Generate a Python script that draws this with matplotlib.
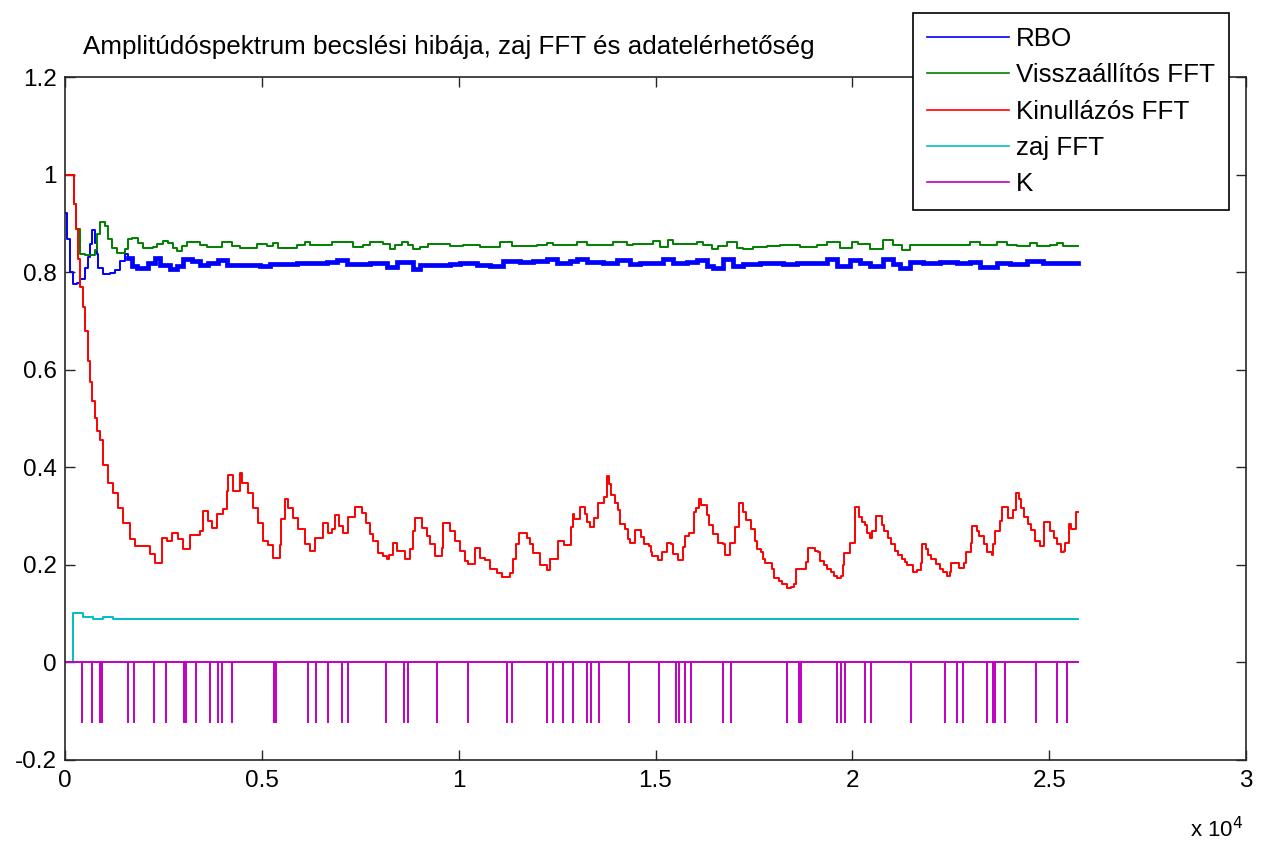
import numpy as np
import matplotlib
matplotlib.use('Agg')
import matplotlib.pyplot as plt
from matplotlib.lines import Line2D
from matplotlib.ticker import FixedLocator, FixedFormatter

plt.rcParams['font.family'] = ['Liberation Sans', 'DejaVu Sans']

title = 'Amplitúdóspektrum becslési hibája, zaj FFT és adatelérhetőség'
series_labels = ['RBO', 'Visszaállítós FFT', 'Kinullázós FFT', 'zaj FFT', 'K']
series_colors = ['#0000FF', '#008000', '#FF0000', '#00BFBF', '#BF00BF']

x_end = 25730

# RBO (step changes: sample index, value)
rbo_x = [0, 50, 130, 200, 300, 380, 510, 580, 640, 690, 760, 810, 840, 960, 1140, 1270,
         1400, 1520, 1600, 1700, 1830, 2110, 2290, 2410, 2670, 2850, 3000, 3230, 3430,
         3630, 3890, 4120, 4950, 5210, 5890, 6660, 6910, 7160, 7750, 8180, 8430, 8840,
         9020, 9780, 10030, 10470, 10800, 11130, 11560, 11890, 12240, 12500, 12830,
         13010, 13260, 13670, 14020, 14350, 14610, 15190, 15440, 15800, 16050, 16310,
         16460, 16710, 16970, 17220, 17650, 18240, 18590, 18920, 19360, 19610, 19940,
         20190, 20450, 20780, 21030, 21210, 21460, 21790, 22230, 22660, 22990, 23240,
         23670, 24000, 24440, 24840, 25270]
rbo_y = [0.922, 0.868, 0.800, 0.775, 0.778, 0.785, 0.808, 0.831, 0.858, 0.887, 0.860,
         0.838, 0.808, 0.797, 0.799, 0.805, 0.823, 0.838, 0.828, 0.813, 0.808, 0.819,
         0.829, 0.815, 0.807, 0.813, 0.826, 0.822, 0.815, 0.818, 0.825, 0.815, 0.813,
         0.816, 0.819, 0.821, 0.825, 0.817, 0.818, 0.811, 0.821, 0.807, 0.815, 0.817,
         0.819, 0.815, 0.813, 0.822, 0.820, 0.823, 0.826, 0.818, 0.822, 0.826, 0.820,
         0.819, 0.825, 0.817, 0.818, 0.826, 0.818, 0.820, 0.825, 0.813, 0.809, 0.826,
         0.813, 0.816, 0.818, 0.816, 0.818, 0.818, 0.826, 0.813, 0.824, 0.818, 0.813,
         0.826, 0.816, 0.809, 0.820, 0.818, 0.820, 0.818, 0.820, 0.811, 0.818, 0.817,
         0.822, 0.818, 0.819]

# Visszaállítós FFT
vis_x = [0, 230, 280, 380, 510, 760, 810, 890, 1020, 1090, 1190, 1320, 1520, 1600, 1700,
         1850, 1980, 2240, 2340, 2490, 2620, 2740, 2850, 2970, 3100, 3430, 3610, 3990,
         4240, 4450, 4880, 5130, 5280, 5410, 5890, 6100, 6220, 6780, 7060, 7320, 7570,
         7750, 8080, 8260, 8380, 8560, 8710, 8840, 9020, 9220, 9780, 10110, 10540, 11050,
         11350, 11990, 12240, 12400, 13010, 13260, 13770, 13920, 14280, 14430, 14940,
         15110, 15320, 15440, 16050, 16210, 16430, 16590, 16820, 17070, 17220, 17480,
         17830, 18160, 18670, 19100, 19360, 19690, 19990, 20140, 20450, 20780, 21030,
         21260, 21460, 21970, 22300, 22660, 22990, 23240, 23670, 23930, 24180, 24510,
         24690, 25020, 25200, 25350]
vis_y = [1.000, 0.940, 0.889, 0.838, 0.836, 0.845, 0.879, 0.903, 0.895, 0.868, 0.850,
         0.840, 0.848, 0.868, 0.870, 0.860, 0.850, 0.852, 0.858, 0.864, 0.860, 0.850,
         0.844, 0.854, 0.862, 0.856, 0.852, 0.862, 0.854, 0.850, 0.858, 0.853, 0.860,
         0.850, 0.856, 0.862, 0.855, 0.862, 0.862, 0.852, 0.855, 0.862, 0.858, 0.848,
         0.855, 0.862, 0.856, 0.848, 0.852, 0.858, 0.853, 0.856, 0.852, 0.862, 0.853,
         0.855, 0.860, 0.855, 0.862, 0.855, 0.856, 0.862, 0.855, 0.857, 0.864, 0.852,
         0.866, 0.858, 0.862, 0.855, 0.848, 0.854, 0.862, 0.850, 0.848, 0.852, 0.853,
         0.855, 0.852, 0.855, 0.862, 0.850, 0.862, 0.858, 0.848, 0.866, 0.855, 0.846,
         0.856, 0.856, 0.855, 0.856, 0.862, 0.855, 0.862, 0.856, 0.853, 0.860, 0.853,
         0.856, 0.860, 0.853]

# Kinullázós FFT
kin_x = [0, 230, 280, 330, 380, 460, 510, 580, 640, 690, 760, 810, 890, 960, 1090, 1220,
         1350, 1470, 1650, 1780, 2160, 2290, 2460, 2590, 2720, 2870, 3000, 3180, 3430,
         3510, 3630, 3730, 3860, 4010, 4120, 4140, 4270, 4450, 4500, 4650, 4780, 4900,
         5030, 5160, 5280, 5460, 5490, 5590, 5660, 5790, 5920, 6100, 6220, 6350, 6550,
         6680, 6780, 6860, 6960, 7060, 7190, 7370, 7540, 7650, 7750, 7820, 7950, 8080,
         8180, 8230, 8330, 8430, 8640, 8760, 8840, 8890, 9070, 9200, 9270, 9400, 9580,
         9600, 9780, 9910, 10030, 10160, 10240, 10410, 10540, 10670, 10800, 10970, 11100,
         11300, 11380, 11460, 11530, 11740, 11810, 11890, 12070, 12240, 12330, 12520,
         12680, 12860, 12900, 12940, 13080, 13210, 13250, 13340, 13430, 13530, 13690,
         13780, 13820, 13870, 13960, 14040, 14110, 14220, 14310, 14350, 14480, 14620,
         14700, 14830, 14880, 14920, 15060, 15170, 15300, 15390, 15450, 15580, 15710,
         15760, 15860, 15980, 16040, 16110, 16150, 16300, 16370, 16460, 16590, 16720,
         16770, 16900, 17030, 17120, 17230, 17300, 17430, 17520, 17590, 17690, 17730,
         17780, 17960, 18000, 18130, 18220, 18350, 18440, 18530, 18570, 18830, 18880,
         19050, 19140, 19190, 19270, 19360, 19450, 19540, 19620, 19710, 19760, 19800,
         19930, 20070, 20080, 20170, 20240, 20330, 20370, 20460, 20510, 20610, 20750,
         20810, 20900, 20990, 21080, 21160, 21250, 21340, 21390, 21540, 21650, 21740,
         21780, 21870, 21910, 22000, 22130, 22220, 22310, 22400, 22480, 22510, 22700,
         22840, 22880, 23010, 23040, 23160, 23210, 23340, 23410, 23540, 23580, 23630,
         23760, 23790, 23950, 24070, 24150, 24240, 24290, 24370, 24460, 24550, 24640,
         24770, 24860, 24880, 25030, 25120, 25210, 25300, 25380, 25410, 25500, 25560,
         25690]
kin_y = [1.000, 0.940, 0.889, 0.827, 0.770, 0.729, 0.680, 0.617, 0.575, 0.535, 0.500,
         0.474, 0.455, 0.404, 0.367, 0.347, 0.317, 0.286, 0.253, 0.239, 0.223, 0.203,
         0.256, 0.249, 0.266, 0.253, 0.233, 0.261, 0.270, 0.311, 0.290, 0.276, 0.304,
         0.315, 0.351, 0.384, 0.351, 0.388, 0.368, 0.347, 0.317, 0.286, 0.249, 0.240,
         0.215, 0.241, 0.294, 0.335, 0.317, 0.296, 0.274, 0.243, 0.229, 0.256, 0.286,
         0.266, 0.274, 0.302, 0.280, 0.266, 0.298, 0.319, 0.306, 0.286, 0.264, 0.249,
         0.225, 0.219, 0.212, 0.221, 0.245, 0.229, 0.212, 0.233, 0.270, 0.296, 0.276,
         0.259, 0.243, 0.219, 0.235, 0.286, 0.270, 0.249, 0.229, 0.208, 0.202, 0.235,
         0.215, 0.210, 0.192, 0.184, 0.176, 0.184, 0.212, 0.243, 0.266, 0.256, 0.243,
         0.225, 0.200, 0.190, 0.212, 0.249, 0.240, 0.277, 0.305, 0.295, 0.318, 0.305,
         0.288, 0.277, 0.297, 0.327, 0.339, 0.382, 0.365, 0.344, 0.327, 0.312, 0.284,
         0.273, 0.252, 0.245, 0.271, 0.257, 0.243, 0.238, 0.227, 0.219, 0.210, 0.226,
         0.245, 0.242, 0.222, 0.210, 0.236, 0.259, 0.266, 0.309, 0.316, 0.335, 0.323,
         0.302, 0.281, 0.263, 0.245, 0.242, 0.220, 0.245, 0.277, 0.327, 0.309, 0.291,
         0.273, 0.249, 0.233, 0.226, 0.213, 0.203, 0.191, 0.174, 0.167, 0.160, 0.152,
         0.155, 0.160, 0.191, 0.205, 0.235, 0.229, 0.226, 0.208, 0.199, 0.192, 0.186,
         0.178, 0.174, 0.178, 0.199, 0.225, 0.245, 0.279, 0.318, 0.298, 0.288, 0.282,
         0.266, 0.256, 0.270, 0.300, 0.281, 0.270, 0.256, 0.242, 0.229, 0.220, 0.213,
         0.206, 0.199, 0.186, 0.190, 0.203, 0.242, 0.233, 0.220, 0.212, 0.201, 0.191,
         0.186, 0.178, 0.186, 0.203, 0.193, 0.203, 0.227, 0.245, 0.279, 0.270, 0.259,
         0.242, 0.227, 0.220, 0.242, 0.270, 0.290, 0.318, 0.297, 0.312, 0.348, 0.334,
         0.316, 0.298, 0.284, 0.271, 0.249, 0.238, 0.256, 0.288, 0.270, 0.256, 0.242,
         0.227, 0.229, 0.245, 0.284, 0.273, 0.309]

# zaj FFT
zaj_x = [0, 210, 460, 710, 960, 1220]
zaj_y = [0.0, 0.102, 0.094, 0.090, 0.094, 0.090]

# K (availability): baseline 0, drops at missing samples
k_level = 0.0
k_drop = -0.125
k_drop_x = [440, 680, 900, 930, 1590, 1750, 2260, 2570, 3030, 3070, 3340, 3680, 3890,
            4000, 4240, 5310, 5350, 6180, 6380, 6690, 7040, 7200, 8150, 8620, 8720, 9440,
            10240, 11220, 11360, 12240, 12390, 12640, 12900, 13250, 13360, 13560, 14330,
            15090, 15530, 15590, 15750, 15890, 16710, 16920, 18350, 18650, 18690, 19600,
            19710, 19810, 20320, 20470, 21490, 22350, 22660, 22820, 23430, 23580, 23620,
            23880, 24660, 25210, 25460]

x_ticks = [0, 5000, 10000, 15000, 20000, 25000, 30000]
x_ticklabels = ['0', '0.5', '1', '1.5', '2', '2.5', '3']
y_ticks = [-0.2, 0, 0.2, 0.4, 0.6, 0.8, 1.0, 1.2]
y_ticklabels = ['-0.2', '0', '0.2', '0.4', '0.6', '0.8', '1', '1.2']


def extend(xs, ys):
    return list(xs) + [x_end], list(ys) + [ys[-1]]


W, H = 1265, 844
fig = plt.figure(figsize=(W / 100, H / 100), dpi=100)
fig.patch.set_facecolor('white')
ax = fig.add_axes([65 / W, 1 - 760 / H, (1246 - 65) / W, (760 - 77) / H])

rx, ry = extend(rbo_x, rbo_y)
ax.plot(rx, ry, drawstyle='steps-post', color=series_colors[0], lw=1.4)
thick = [i for i, v in enumerate(rx) if v >= 1600]
ax.plot([rx[i] for i in thick], [ry[i] for i in thick], drawstyle='steps-post',
        color=series_colors[0], lw=3.4, solid_joinstyle='miter')

vx, vy = extend(vis_x, vis_y)
ax.plot(vx, vy, drawstyle='steps-post', color=series_colors[1], lw=1.4)

kx, ky = extend(kin_x, kin_y)
ax.plot(kx, ky, drawstyle='steps-post', color=series_colors[2], lw=1.4)

zx, zy = extend(zaj_x, zaj_y)
ax.plot(zx, zy, drawstyle='steps-post', color=series_colors[3], lw=1.4)

ax.plot([0, x_end], [k_level, k_level], color=series_colors[4], lw=1.4)
ax.vlines(k_drop_x, k_drop, k_level, color=series_colors[4], lw=1.4)

ax.set_xlim(0, 30000)
ax.set_ylim(-0.2, 1.2)
ax.xaxis.set_major_locator(FixedLocator(x_ticks))
ax.xaxis.set_major_formatter(FixedFormatter(x_ticklabels))
ax.yaxis.set_major_locator(FixedLocator(y_ticks))
ax.yaxis.set_major_formatter(FixedFormatter(y_ticklabels))
ax.tick_params(direction='in', length=7.5, width=1, top=True, right=True,
               labelsize=17.5, colors='#262626', labelcolor='black')
ax.tick_params(axis='x', pad=7)
ax.tick_params(axis='y', pad=6)
for s in ax.spines.values():
    s.set_color('#262626')
    s.set_linewidth(1.2)

fig.text(83 / W, 1 - 47 / H, title, fontsize=18.7, ha='left', va='center')
fig.text(1190 / W, 1 - 830 / H, r'x 10$^{4}$', fontsize=16, ha='left', va='center')

handles = [Line2D([], [], color=c, lw=1.2) for c in series_colors]
leg = ax.legend(handles, series_labels, loc='upper left',
                bbox_to_anchor=(913 / W, 1 - 13 / H), bbox_transform=fig.transFigure,
                borderaxespad=0, frameon=True, fancybox=False, framealpha=1,
                edgecolor='black', fontsize=18.7, handlelength=3.15, handletextpad=0.27,
                labelspacing=0.47, borderpad=0.55)
leg.get_frame().set_linewidth(1.2)

fig.savefig('out.png', dpi=100, facecolor='white')
